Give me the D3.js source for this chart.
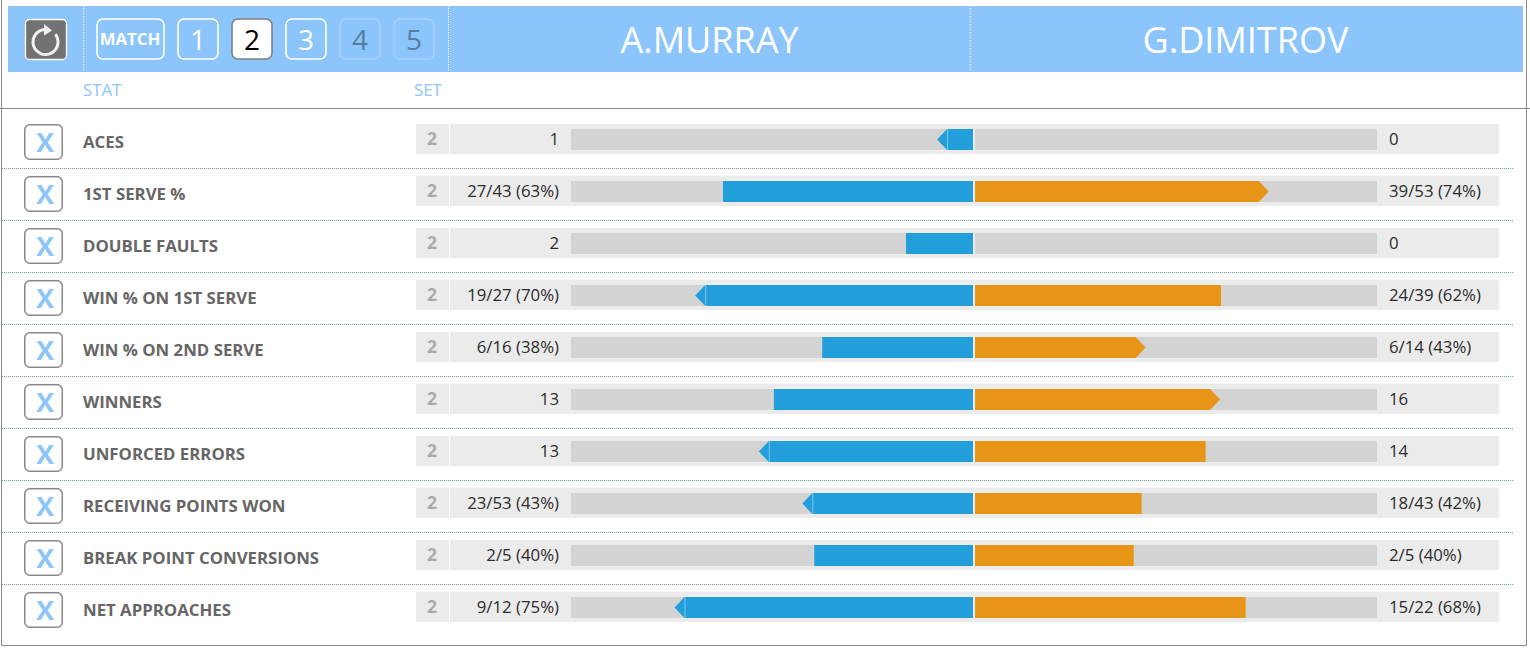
<!DOCTYPE html>
<html>
<head>
<meta charset="utf-8">
<script src="https://cdn.jsdelivr.net/npm/d3@7"></script>
<style>
html,body{margin:0;padding:0;background:#fff;overflow:hidden}
svg{display:block;font-family:"Open Sans",sans-serif}
</style>
</head>
<body>
<svg id="chart" width="1530" height="648"></svg>
<script>
// Match statistics for the selected set
const players = ["A.MURRAY", "G.DIMITROV"];
const setButtons = ["MATCH", "1", "2", "3", "4", "5"];
const activeSet = "2";
const disabledSets = ["4", "5"];
const stats = ["ACES", "1ST SERVE %", "DOUBLE FAULTS", "WIN % ON 1ST SERVE", "WIN % ON 2ND SERVE",
  "WINNERS", "UNFORCED ERRORS", "RECEIVING POINTS WON", "BREAK POINT CONVERSIONS", "NET APPROACHES"];
const leftLabels = ["1", "27/43 (63%)", "2", "19/27 (70%)", "6/16 (38%)", "13", "13", "23/53 (43%)", "2/5 (40%)", "9/12 (75%)"];
const rightLabels = ["0", "39/53 (74%)", "0", "24/39 (62%)", "6/14 (43%)", "16", "14", "18/43 (42%)", "2/5 (40%)", "15/22 (68%)"];
const leftValues = [1, 63, 2, 70, 38, 13, 13, 43, 40, 75];
const rightValues = [0, 74, 0, 62, 43, 16, 14, 42, 40, 68];
// Full-bar value of each stat: percentages share one range, counts have their own
const statMax = [11.2, 101.3, 12, 101.3, 101.3, 26.25, 24.4, 101.3, 101.3, 101];
// Which side carries the leader arrow on each row
const leaders = ["left", "right", null, "left", "right", "right", "left", "left", null, "left"];

const svg = d3.select("#chart");
const sky = "#8cc4fc", blue = "#229fdb", orange = "#e89517", track = "#d3d3d3", band = "#ebebeb";

const rows = d3.scaleBand().domain(d3.range(stats.length)).range([116, 636]);
const rowTop = i => rows(i) + 8;
const barLen = 402, arrowLen = 10;

// Outer frame and header rule
svg.append("rect").attr("x", 1.5).attr("y", -5).attr("width", 1525).attr("height", 650.5)
  .attr("fill", "none").attr("stroke", "#8a8a8a");
svg.append("rect").attr("x", 8).attr("y", 6).attr("width", 1515).attr("height", 66).attr("fill", sky);
svg.append("line").attr("x1", 0).attr("x2", 1530).attr("y1", 108.5).attr("y2", 108.5).attr("stroke", "#8a8a8a");
svg.selectAll(".sep").data([83.5, 448.5, 970.5]).join("line").attr("class", "sep")
  .attr("x1", d => d).attr("x2", d => d).attr("y1", 6).attr("y2", 72)
  .attr("stroke", "#fff").attr("stroke-dasharray", "1 1");

// Reset button
const reset = svg.append("g");
reset.append("rect").attr("x", 25.5).attr("y", 19.5).attr("width", 41).attr("height", 40).attr("rx", 4)
  .attr("fill", "#727272").attr("stroke", "#fff").attr("stroke-width", 1.3);
reset.append("path").attr("d", d3.arc()({innerRadius: 11, outerRadius: 14, startAngle: 0.9, endAngle: 2 * Math.PI - 0.1}))
  .attr("transform", "translate(45.5,42)").attr("fill", "#f2f2f2");
reset.append("path").attr("d", "M44 24 L52 30.5 L44 35.5 Z").attr("fill", "#f2f2f2");

// Set selector buttons
const btnX = d3.scaleOrdinal().domain(setButtons).range([97, 178, 232, 286, 340, 394]);
const btn = svg.selectAll(".btn").data(setButtons).join("g").attr("class", "btn");
btn.append("rect")
  .attr("x", d => btnX(d)).attr("y", 19)
  .attr("width", d => d === "MATCH" ? 67 : 40).attr("height", 40).attr("rx", 6)
  .attr("fill", d => d === activeSet ? "#fff" : "none")
  .attr("stroke", d => d === activeSet ? "#7f7f7f" : disabledSets.includes(d) ? "#a6d0fb" : "#fff")
  .attr("stroke-width", 1.6);
btn.append("text")
  .attr("x", d => btnX(d) + (d === "MATCH" ? 33 : 20))
  .attr("y", d => d === "MATCH" ? 45 : 49.5)
  .attr("text-anchor", "middle")
  .attr("font-size", d => d === "MATCH" ? 16.8 : 28)
  .attr("font-weight", d => d === "MATCH" ? 700 : 500)
  .attr("fill", d => d === activeSet ? "#000" : disabledSets.includes(d) ? "#557f9f" : "#fff")
  .text(d => d);

// Player names
svg.selectAll(".player").data(players).join("text").attr("class", "player")
  .attr("x", (d, i) => [709.5, 1245.5][i]).attr("y", 53).attr("text-anchor", "middle")
  .attr("font-size", 36).attr("fill", "#fff").text(d => d);

// Column captions
svg.selectAll(".cap").data([["STAT", 83], ["SET", 414]]).join("text").attr("class", "cap")
  .attr("x", d => d[1]).attr("y", 96).attr("font-size", 16.8).attr("fill", sky).text(d => d[0]);

// Stat rows
const xLeft = i => d3.scaleLinear().domain([0, statMax[i]]).range([973, 973 - barLen]);
const xRight = i => d3.scaleLinear().domain([0, statMax[i]]).range([975, 975 + barLen]);

const row = svg.selectAll(".row").data(stats).join("g").attr("class", "row");

row.filter((d, i) => i > 0).append("line")
  .attr("x1", 2).attr("x2", 1514)
  .attr("y1", (d, i) => rows(i + 1) + 0.5).attr("y2", (d, i) => rows(i + 1) + 0.5)
  .attr("stroke", "#62a594").attr("stroke-dasharray", "1 1");

// Remove button
row.append("rect").attr("x", 24.75).attr("y", (d, i) => rowTop(i) + 0.75).attr("width", 37.5).attr("height", 34.5).attr("rx", 5)
  .attr("fill", "#fff").attr("stroke", "#888").attr("stroke-width", 1.5);
row.append("text").attr("x", 45).attr("y", (d, i) => rowTop(i) + 28).attr("text-anchor", "middle")
  .attr("font-size", 26.6).attr("font-weight", 700).attr("fill", sky).text("X");

row.append("text").attr("x", 83).attr("y", (d, i) => rowTop(i) + 23.5)
  .attr("font-size", 16.8).attr("font-weight", 700).attr("fill", "#666").text(d => d);

// Set number cell and value band
row.append("rect").attr("x", 416).attr("y", (d, i) => rowTop(i)).attr("width", 33).attr("height", 30).attr("fill", band);
row.append("text").attr("x", 432).attr("y", (d, i) => rowTop(i) + 21).attr("text-anchor", "middle")
  .attr("font-size", 17.5).attr("font-weight", 700).attr("fill", "#aaa").text(activeSet);
row.append("rect").attr("x", 450).attr("y", (d, i) => rowTop(i)).attr("width", 1049).attr("height", 30).attr("fill", band);
row.append("rect").attr("x", 571).attr("y", (d, i) => rowTop(i) + 5).attr("width", 402).attr("height", 21).attr("fill", track);
row.append("rect").attr("x", 975).attr("y", (d, i) => rowTop(i) + 5).attr("width", 402).attr("height", 21).attr("fill", track);

// Left and right bars; a leader's bar ends in an arrow whose tip sits on the value
row.append("path").attr("fill", blue).attr("d", (d, i) => {
  const t = rowTop(i) + 5, x = xLeft(i)(leftValues[i]);
  if (leaders[i] === "left") {
    return `M973 ${t}H${x + arrowLen}L${x} ${t + 10.5}L${x + arrowLen} ${t + 21}H973Z`;
  }
  return `M973 ${t}H${x}V${t + 21}H973Z`;
});
row.filter((d, i) => leaders[i] === "left").append("line")
  .attr("x1", (d) => xLeft(stats.indexOf(d))(leftValues[stats.indexOf(d)]) + arrowLen + 0.5)
  .attr("x2", (d) => xLeft(stats.indexOf(d))(leftValues[stats.indexOf(d)]) + arrowLen + 0.5)
  .attr("y1", d => rowTop(stats.indexOf(d)) + 5).attr("y2", d => rowTop(stats.indexOf(d)) + 26)
  .attr("stroke", "#7fc6ea");
row.append("path").attr("fill", orange).attr("d", (d, i) => {
  const t = rowTop(i) + 5, x = xRight(i)(rightValues[i]);
  if (leaders[i] === "right") {
    return `M975 ${t}H${x - arrowLen}L${x} ${t + 10.5}L${x - arrowLen} ${t + 21}H975Z`;
  }
  return `M975 ${t}H${x}V${t + 21}H975Z`;
});

// Value labels either side of the bars
row.append("text").attr("x", 559).attr("y", (d, i) => rowTop(i) + 20.5).attr("text-anchor", "end")
  .attr("font-size", 16.8).attr("fill", "#2b2b2b").text((d, i) => leftLabels[i]);
row.append("text").attr("x", 1389).attr("y", (d, i) => rowTop(i) + 20.5)
  .attr("font-size", 16.8).attr("fill", "#2b2b2b").text((d, i) => rightLabels[i]);
</script>
</body>
</html>
